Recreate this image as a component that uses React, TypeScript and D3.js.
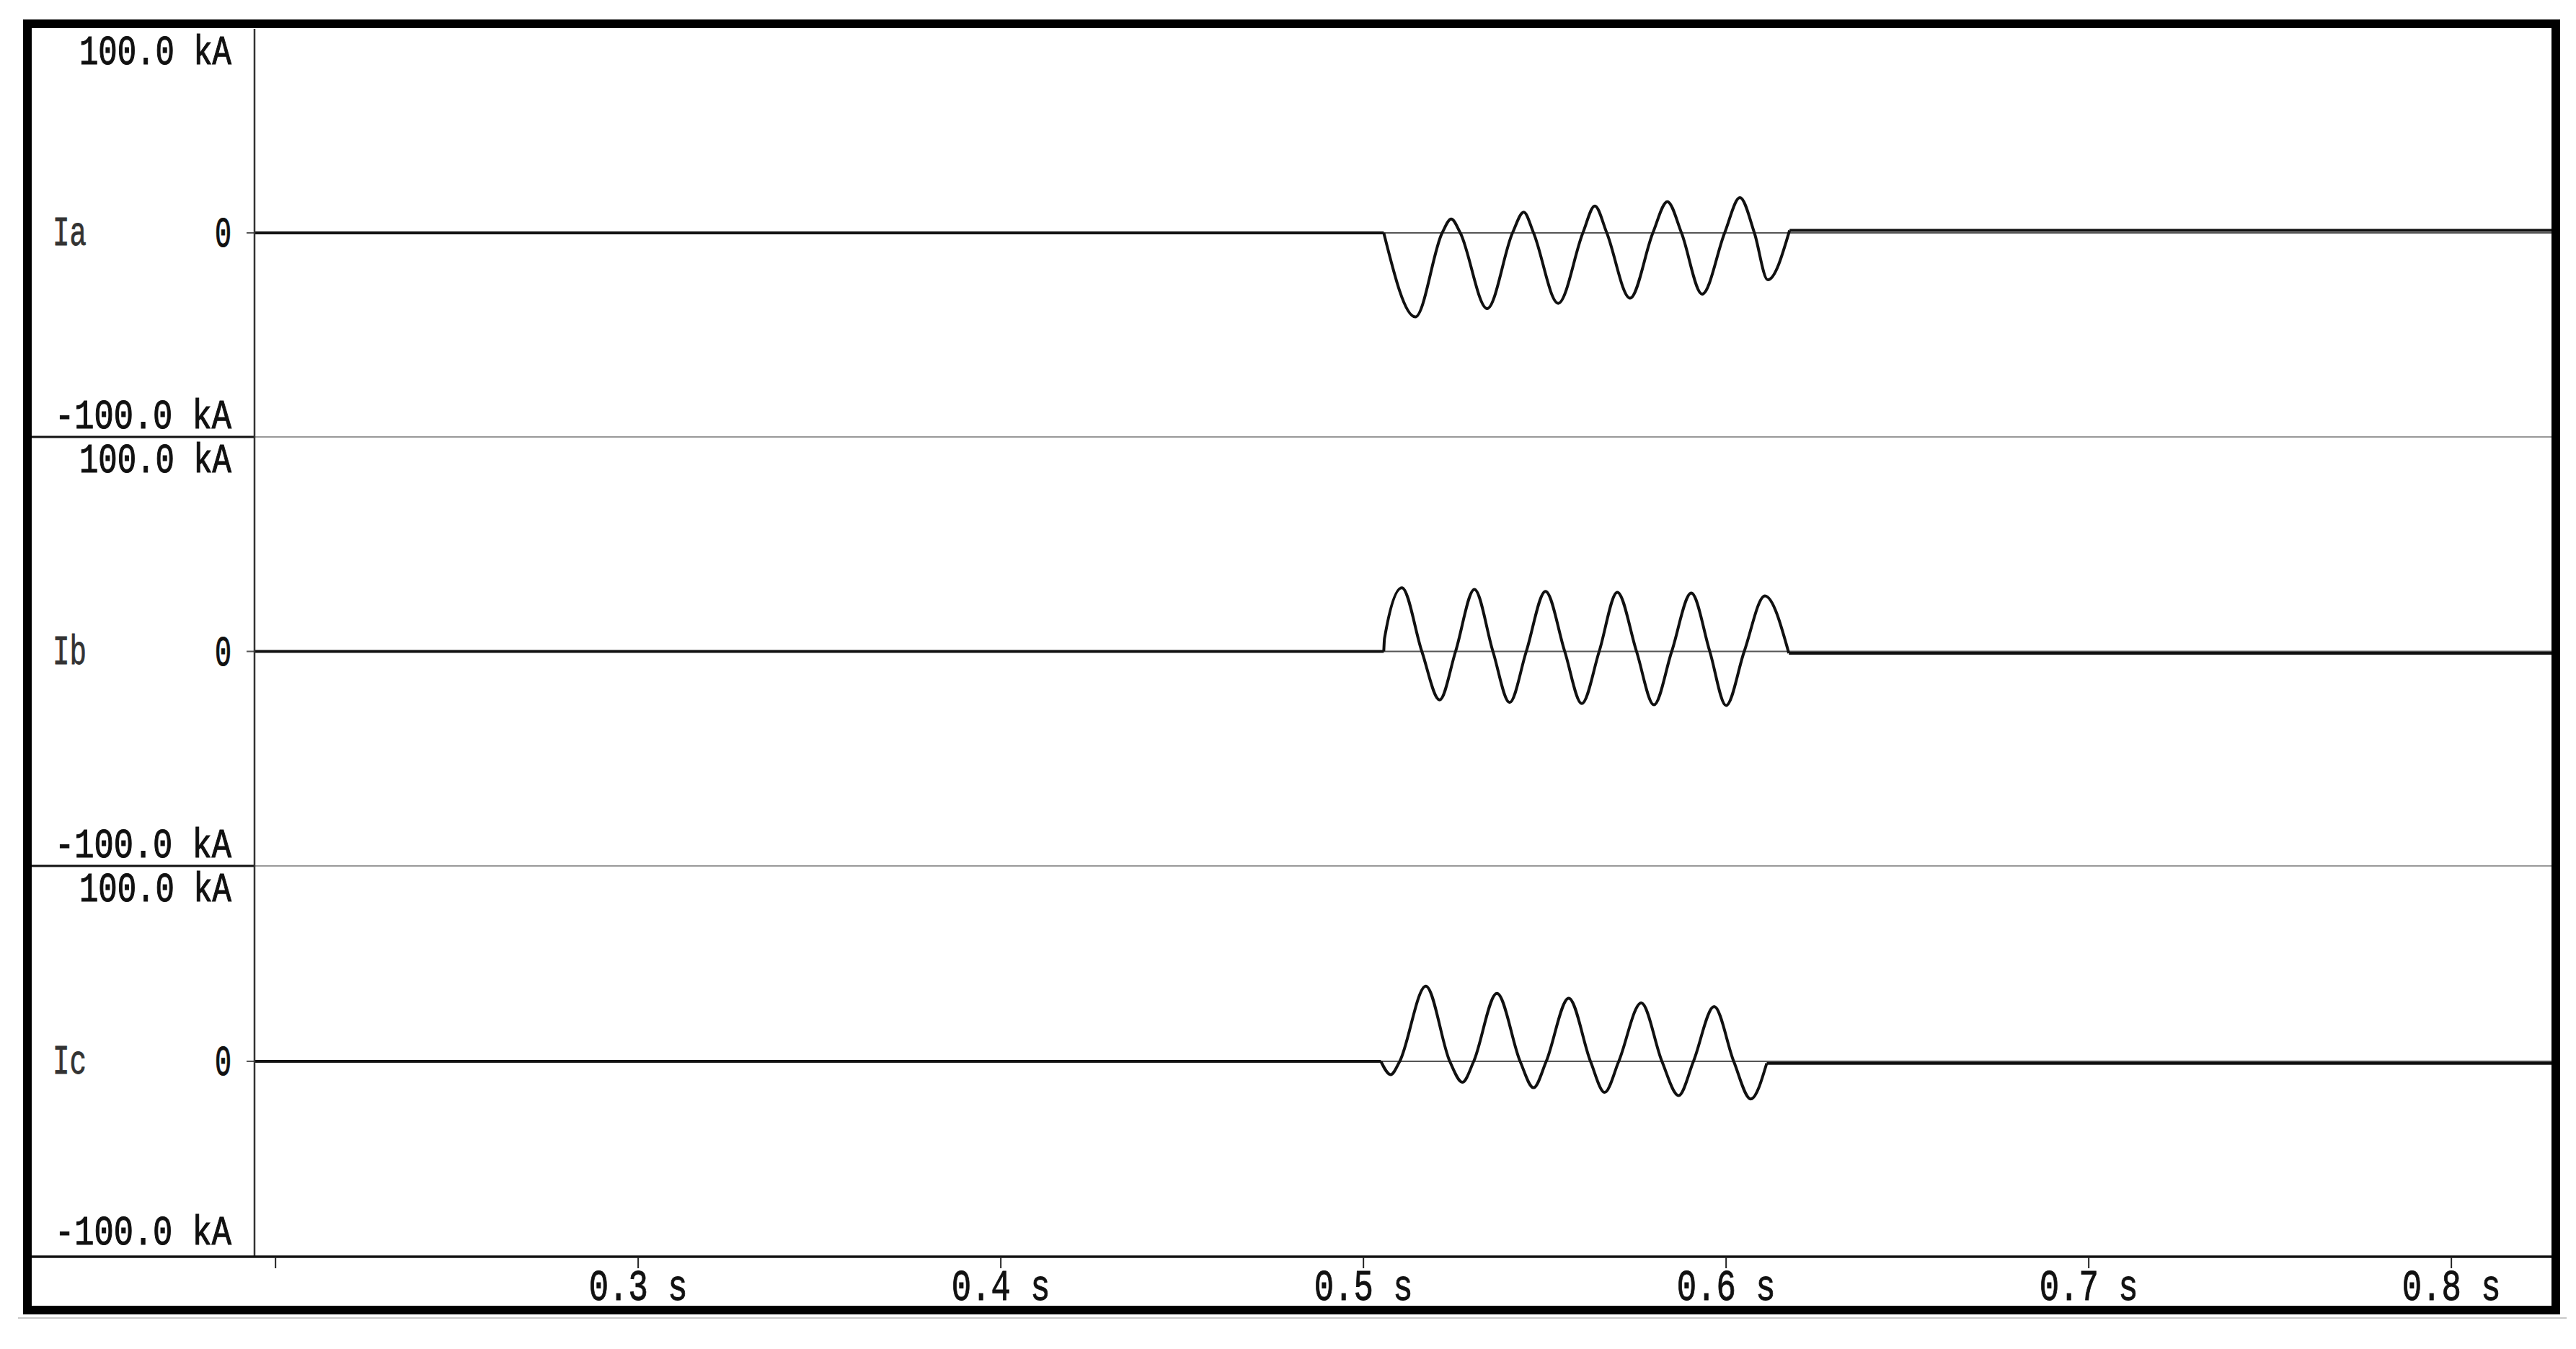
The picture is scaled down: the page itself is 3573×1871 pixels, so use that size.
import React, { useEffect, useRef } from 'react';
import * as d3 from 'd3';

const width = 3573;
const height = 1871;

// axis ticks
const timeTicks = [0.2, 0.3, 0.4, 0.5, 0.6, 0.7, 0.8];
const timeLabels = ['', '0.3 s', '0.4 s', '0.5 s', '0.6 s', '0.7 s', '0.8 s'];
const phaseNames = ['Ia', 'Ib', 'Ic'];
const kaTicks = [100, 0, -100];
const kaLabels = ['100.0 kA', '0', '-100.0 kA'];

// fault window, peaks and zero crossings (s / kA)
const iaTime = [0.5056, 0.5143, 0.5217, 0.5242, 0.5267, 0.5341, 0.5411, 0.5442, 0.5469, 0.5537, 0.5605, 0.5638, 0.5671, 0.5735, 0.5798, 0.5838, 0.5877, 0.5934, 0.5996, 0.6038, 0.6078, 0.6115, 0.6175];
const iaValue = [0, -41.2, 0, 6.8, 0, -37.1, 0, 10.2, 0, -34.5, 0, 13.2, 0, -32.0, 0, 15.3, 0, -30.0, 0, 17.3, 0, -23.0, 1.2];

const ibTime = [0.5056, 0.5058, 0.5106, 0.5161, 0.5210, 0.5254, 0.5306, 0.5357, 0.5403, 0.5449, 0.5502, 0.5555, 0.5602, 0.5650, 0.5700, 0.5753, 0.5801, 0.5850, 0.5904, 0.5955, 0.6000, 0.6050, 0.6107, 0.6173];
const ibValue = [0, 6.0, 29.7, 0, -22.6, 0, 28.9, 0, -23.8, 0, 28.0, 0, -24.3, 0, 27.6, 0, -24.9, 0, 27.2, 0, -25.2, 0, 25.9, -0.8];

const icTime = [0.5048, 0.5075, 0.5100, 0.5172, 0.5238, 0.5273, 0.5304, 0.5368, 0.5432, 0.5469, 0.5504, 0.5566, 0.5626, 0.5665, 0.5704, 0.5766, 0.5823, 0.5869, 0.5910, 0.5967, 0.6021, 0.6068, 0.6112];
const icValue = [0, -6.8, 0, 38.5, 0, -10.7, 0, 34.8, 0, -13.5, 0, 32.3, 0, -15.9, 0, 29.9, 0, -17.5, 0, 28.0, 0, -19.3, -1.0];

const preFault = [0, 0, 0];
const postFault = [1.2, -0.8, -1.0];

const timeDomain = [0.1942, 0.8282];

const App = () => {
  const svgRef = useRef<SVGSVGElement>(null);

  useEffect(() => {
    const svg = d3.select(svgRef.current);
    svg.selectAll('*').remove();

    const frame = { left: 38, top: 33, right: 3545, bottom: 1817 };
    const plotLeft = 353;
    const plotRight = 3542;
    const edges = [40, 606, 1201, 1743];
    const font = '"Liberation Mono", monospace';

    const x = d3.scaleLinear().domain(timeDomain).range([plotLeft, plotRight]);

    svg.append('rect')
      .attr('width', width).attr('height', height).attr('fill', '#fff');

    // faint second line under the frame
    svg.append('line')
      .attr('x1', 25).attr('x2', 3560)
      .attr('y1', 1828).attr('y2', 1828)
      .attr('stroke', '#c8c8c8').attr('stroke-width', 2);

    const traces = [
      { t: iaTime, v: iaValue },
      { t: ibTime, v: ibValue },
      { t: icTime, v: icValue },
    ];

    phaseNames.forEach((name, i) => {
      const y = d3.scaleLinear().domain([-100, 100]).range([edges[i + 1], edges[i]]);
      const g = svg.append('g');

      // zero reference line (sticks out a bit left of the axis)
      g.append('line')
        .attr('x1', plotLeft - 11).attr('x2', plotRight)
        .attr('y1', y(0)).attr('y2', y(0))
        .attr('stroke', '#555').attr('stroke-width', 2);

      const tr = traces[i];
      const pts: [number, number][] = tr.t.map((t, k) => [t, tr.v[k]]);
      const pre: [number, number][] = [[timeDomain[0], preFault[i]], [tr.t[0], preFault[i]]];
      const post: [number, number][] = [[tr.t[tr.t.length - 1], postFault[i]], [timeDomain[1], postFault[i]]];

      const lin = d3.line<[number, number]>().x(d => x(d[0])).y(d => y(d[1]));
      const smooth = d3.line<[number, number]>().x(d => x(d[0])).y(d => y(d[1])).curve(d3.curveMonotoneX);

      [pre, post].forEach(seg => g.append('path')
        .attr('d', lin(seg))
        .attr('fill', 'none').attr('stroke', '#111').attr('stroke-width', 4));
      g.append('path')
        .attr('d', smooth(pts))
        .attr('fill', 'none').attr('stroke', '#111').attr('stroke-width', 4)
        .attr('stroke-linejoin', 'round');

      // left labels
      g.append('text')
        .attr('x', 73).attr('y', y(0) + 17)
        .attr('font-family', font).attr('font-size', 58)
        .attr('textLength', 47).attr('lengthAdjust', 'spacingAndGlyphs')
        .attr('fill', '#333').attr('stroke', '#333').attr('stroke-width', 0.8)
        .text(name);

      kaTicks.forEach((v, k) => {
        const label = kaLabels[k];
        let ty = y(v) + 19;
        if (v === 100) ty = y(v) + 49;
        if (v === -100) ty = y(v) - (i === 2 ? 17 : 12);
        const len = v === 0 ? 23 : v > 0 ? 211 : 245;
        g.append('text')
          .attr('x', 321).attr('y', ty)
          .attr('text-anchor', 'end')
          .attr('font-family', font).attr('font-size', v === 0 ? 60 : 57)
          .attr('textLength', len).attr('lengthAdjust', 'spacingAndGlyphs')
          .attr('fill', '#111').attr('stroke', '#111').attr('stroke-width', 1.2)
          .text(label);
      });
    });

    // panel separators: dark on the label side, light across the plot
    [edges[1], edges[2]].forEach(ey => {
      svg.append('line')
        .attr('x1', frame.left).attr('x2', plotLeft)
        .attr('y1', ey).attr('y2', ey)
        .attr('stroke', '#111').attr('stroke-width', 3);
      svg.append('line')
        .attr('x1', plotLeft).attr('x2', plotRight)
        .attr('y1', ey).attr('y2', ey)
        .attr('stroke', '#999').attr('stroke-width', 2);
    });

    // y axis line
    svg.append('line')
      .attr('x1', plotLeft).attr('x2', plotLeft)
      .attr('y1', edges[0]).attr('y2', edges[3])
      .attr('stroke', '#333').attr('stroke-width', 2.5);

    // time axis
    const axisY = edges[3];
    svg.append('line')
      .attr('x1', frame.left).attr('x2', plotRight)
      .attr('y1', axisY).attr('y2', axisY)
      .attr('stroke', '#111').attr('stroke-width', 3.5);

    const ticks = svg.append('g');
    ticks.selectAll('line')
      .data(timeTicks)
      .join('line')
      .attr('x1', d => x(d)).attr('x2', d => x(d))
      .attr('y1', axisY).attr('y2', axisY + 16)
      .attr('stroke', '#222').attr('stroke-width', 2);
    ticks.selectAll('text')
      .data(timeTicks.filter((d, i) => timeLabels[i] !== ''))
      .join('text')
      .attr('x', d => x(d)).attr('y', 1803)
      .attr('text-anchor', 'middle')
      .attr('font-family', font).attr('font-size', 62)
      .attr('textLength', 137).attr('lengthAdjust', 'spacingAndGlyphs')
      .attr('fill', '#111').attr('stroke', '#111').attr('stroke-width', 1)
      .text(d => timeLabels[timeTicks.indexOf(d)]);

    // outer frame
    svg.append('rect')
      .attr('x', frame.left).attr('y', frame.top)
      .attr('width', frame.right - frame.left).attr('height', frame.bottom - frame.top)
      .attr('fill', 'none').attr('stroke', '#000').attr('stroke-width', 12);
  }, []);

  return (
    <svg
      ref={svgRef}
      width={width}
      height={height}
      style={{ position: 'absolute', left: 0, top: 0, display: 'block' }}
    />
  );
};

export default App;
